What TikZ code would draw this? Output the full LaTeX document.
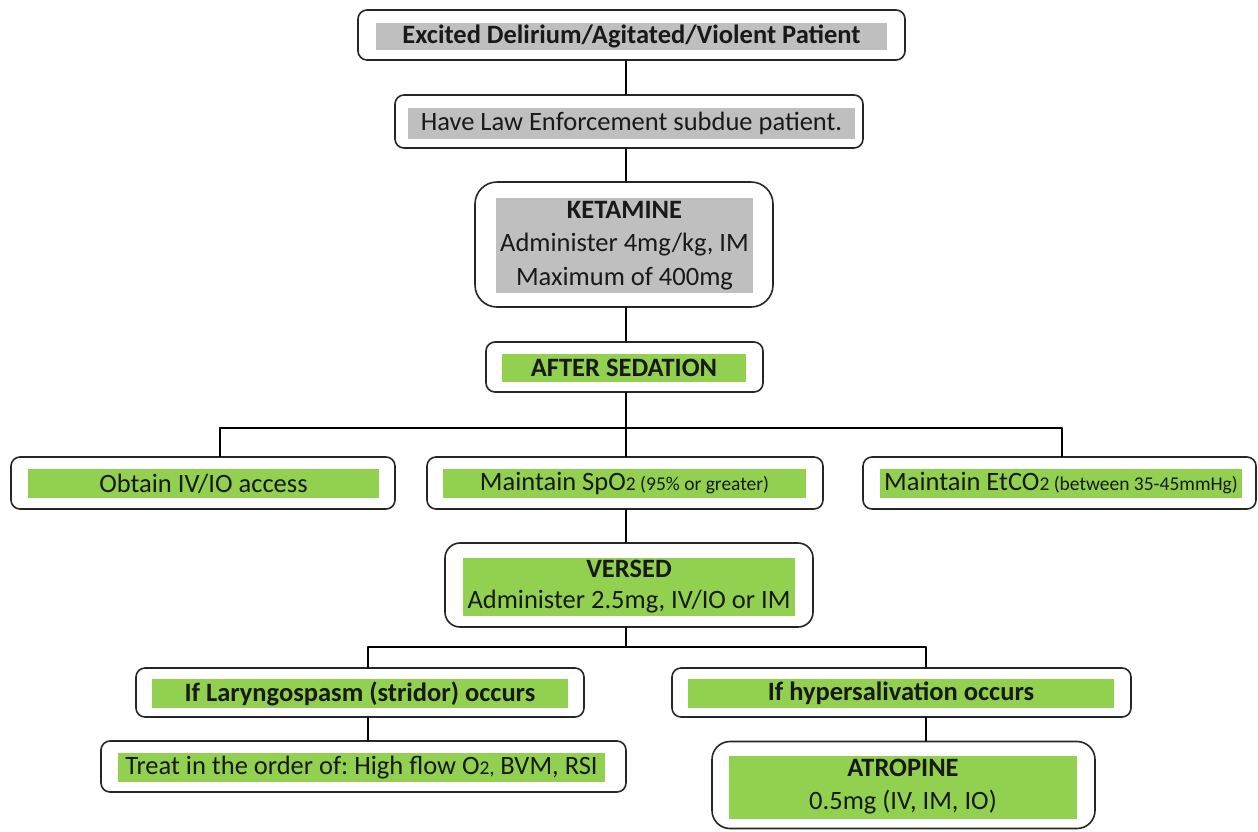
\documentclass[tikz,border=0pt]{standalone}
\usepackage{fontspec}
\setmainfont{Carlito}
\frenchspacing
\definecolor{boxgreen}{RGB}{146,208,80}
\definecolor{boxgrey}{RGB}{191,191,191}
\newcommand{\smalltxt}[1]{{\fontsize{19.5}{22}\selectfont #1}}

\tikzset{
  frame/.style={draw=black!85, line width=1.6pt, fill=white, rounded corners=9pt, inner sep=0pt},
  greyfill/.style={fill=boxgrey, inner sep=0pt, align=center, text=black!90},
  greenfill/.style={fill=boxgreen, inner sep=0pt, align=center, text=black!90},
  link/.style={draw=black, line width=1.6pt}
}

\begin{document}
\begin{tikzpicture}[line cap=round,line join=round,x=1pt,y=-1pt,
  every node/.append style={font=\fontsize{26.5}{33.5}\selectfont}]
\useasboundingbox (0,0) rectangle (1258,831);
\coordinate (spine) at (626,0);
\coordinate (busL) at (220,428);
\coordinate (busR) at (1062,428);
\coordinate (busLL) at (368,647);
\coordinate (busRR) at (926,647);
% main column
\node[frame, minimum width=547pt, minimum height=50pt] (excited) at (631.5,35) {};
\node[greyfill, minimum width=511pt, minimum height=27pt, font=\fontsize{26.5}{30}\selectfont\bfseries] (excitedtxt) at (631.5,36.5) {Excited Delirium/Agitated/Violent Patient};
\node[frame, minimum width=468pt, minimum height=53pt] (law) at (629,121.5) {};
\node[greyfill, minimum width=447pt, minimum height=31pt] (lawtxt) at (631.5,123) {Have Law Enforcement subdue patient.};
\node[frame, rounded corners=22pt, minimum width=298pt, minimum height=125pt] (ketamine) at (624,244.5) {};
\node[greyfill, minimum width=257pt, minimum height=95pt] (ketaminetxt) at (624.5,245.5) {\textbf{KETAMINE}\\Administer 4mg/kg, IM\\Maximum of 400mg};
\node[frame, minimum width=277pt, minimum height=50pt] (after) at (624.5,367) {};
\node[greenfill, minimum width=244pt, minimum height=28pt, font=\fontsize{26.5}{30}\selectfont\bfseries] (aftertxt) at (624,368) {AFTER SEDATION};
% first row
\node[frame, minimum width=384pt, minimum height=52pt] (obtain) at (203,483) {};
\node[greenfill, minimum width=351pt, minimum height=29pt] (obtaintxt) at (203.5,483.5) {Obtain IV/IO access};
\node[frame, minimum width=396pt, minimum height=52pt] (spo) at (625,483) {};
\node[greenfill, minimum width=363pt, minimum height=29pt] (spotxt) at (624.5,483.5) {Maintain SpO\smalltxt{2 (95\% or greater)}};
\node[frame, minimum width=393pt, minimum height=52pt] (etco) at (1059.5,483) {};
\node[greenfill, minimum width=362pt, minimum height=29pt] (etcotxt) at (1061,483.5) {Maintain EtCO\smalltxt{2 (between 35-45mmHg)}};
\node[frame, rounded corners=15pt, minimum width=368pt, minimum height=84pt] (versed) at (629,585) {};
\node[greenfill, minimum width=332pt, minimum height=58pt, font=\fontsize{26.5}{31}\selectfont] (versedtxt) at (629,586.5) {\textbf{VERSED}\\Administer 2.5mg, IV/IO or IM};
% side effects
\node[frame, minimum width=448pt, minimum height=49pt] (lary) at (360,692.5) {};
\node[greenfill, minimum width=416pt, minimum height=29pt, font=\fontsize{26.5}{30}\selectfont\bfseries] (larytxt) at (360,693.5) {If Laryngospasm (stridor) occurs};
\node[frame, minimum width=459pt, minimum height=49pt] (hyper) at (901.5,692.5) {};
\node[greenfill, minimum width=426pt, minimum height=29pt, font=\fontsize{26.5}{30}\selectfont\bfseries] (hypertxt) at (901,693.5) {If hypersalivation occurs};
\node[frame, minimum width=525pt, minimum height=51pt] (treat) at (363.5,766.5) {};
\node[greenfill, minimum width=487pt, minimum height=29pt] (treattxt) at (361.5,767.5) {Treat in the order of: High flow O\smalltxt{2,} BVM, RSI};
\node[frame, rounded corners=18pt, minimum width=383pt, minimum height=87pt] (atropine) at (903.5,785) {};
\node[greenfill, minimum width=348pt, minimum height=63pt, font=\fontsize{26.5}{33}\selectfont] (atropinetxt) at (903,787) {\textbf{ATROPINE}\\0.5mg (IV, IM, IO)};
% connectors
\draw[link] (excited.south -| spine) -- (law.north -| spine);
\draw[link] (law.south -| spine) -- (ketamine.north -| spine);
\draw[link] (ketamine.south -| spine) -- (after.north -| spine);
\draw[link] (after.south -| spine) -- (spo.north -| spine);
\draw[link] (obtain.north -| busL) -- (busL) -- (busR) -- (etco.north -| busR);
\draw[link] (spo.south -| spine) -- (versed.north -| spine);
\draw[link] (versed.south -| spine) -- (spine |- busLL);
\draw[link] (lary.north -| busLL) -- (busLL) -- (busRR) -- (hyper.north -| busRR);
\draw[link] (lary.south -| busLL) -- (treat.north -| busLL);
\draw[link] (hyper.south -| busRR) -- (atropine.north -| busRR);
\end{tikzpicture}
\end{document}
